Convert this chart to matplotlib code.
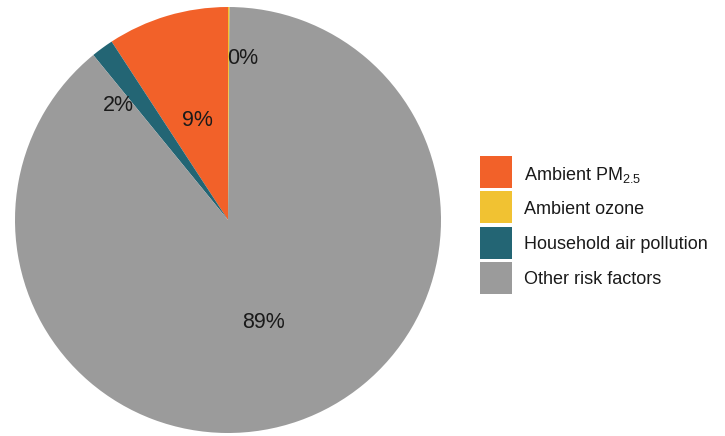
import numpy as np
import matplotlib.pyplot as plt
from matplotlib.patches import Rectangle

plt.rcParams['font.family'] = ['Liberation Sans', 'DejaVu Sans']
plt.rcParams['mathtext.fontset'] = 'custom'
plt.rcParams['mathtext.rm'] = 'Liberation Sans'
plt.rcParams['mathtext.it'] = 'Liberation Sans'

# Share of deaths by risk factor (%)
categories = ["Ambient PM$\\mathregular{_{2.5}}$", "Ambient ozone", "Household air pollution", "Other risk factors"]
shares = [9.2, 0.1, 1.7, 89.0]
colors = ["#F26129", "#F1C232", "#236574", "#9B9B9B"]

# drawing order around the pie (counter-clockwise from 12 o'clock)
pie_order = [0, 2, 3, 1]

fig = plt.figure(figsize=(7.25, 4.36), dpi=100)
W, H = 725, 436
ax = fig.add_axes([15 / W, (H - 433) / H, 426 / W, 426 / H])

vals = [shares[i] for i in pie_order]
cols = [colors[i] for i in pie_order]
wedges, _ = ax.pie(vals, colors=cols, startangle=90, counterclock=True,
                   radius=1.0, wedgeprops=dict(linewidth=0))
ax.set_xlim(-1, 1)
ax.set_ylim(-1, 1)
ax.set_aspect('equal')
ax.axis('off')

# percentage labels: (distance from centre, angular nudge in degrees, alignment)
label_style = {0: (0.50, 0.0, 'center'), 2: (0.705, 2.7, 'right'),
               3: (0.50, 0.0, 'center'), 1: (0.77, 0.5, 'left')}
for w, idx in zip(wedges, pie_order):
    r, nudge, ha = label_style[idx]
    mid = np.deg2rad((w.theta1 + w.theta2) / 2 + nudge)
    ax.text(r * np.cos(mid), r * np.sin(mid), f"{round(shares[idx])}%",
            ha=ha, va='center_baseline', fontsize=15.5, color='#1a1a1a')

# legend: colour swatches with labels to the right
sw_left, sw_size, sw_pitch, sw_top = 480, 32, 35.3, 156
for k, (lab, c) in enumerate(zip(categories, colors)):
    top = sw_top + k * sw_pitch
    fig.patches.append(Rectangle((sw_left / W, 1 - (top + sw_size) / H),
                                 sw_size / W, sw_size / H, facecolor=c,
                                 edgecolor='none', transform=fig.transFigure))
    fig.text(524 / W, 1 - (top + sw_size / 2) / H, lab, ha='left',
             va='center_baseline', fontsize=13, color='#1a1a1a')

fig.savefig("out.png", dpi=100)
